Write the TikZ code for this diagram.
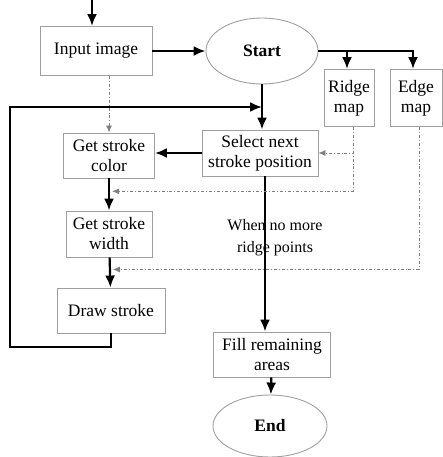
\documentclass[tikz,border=0pt]{standalone}
\usepackage{fontspec}
\setmainfont{Liberation Serif}
\usepackage{tikz}
\usetikzlibrary{arrows.meta,calc,positioning,shapes.geometric}

\begin{document}
\begin{tikzpicture}[x=1pt, y=-1pt, font=\fontsize{17.5}{20}\selectfont,
  box/.style={rectangle, draw=gray!75, line width=0.9pt, align=center, inner sep=2pt},
  oval/.style={ellipse, draw=gray!75, line width=0.9pt, font=\fontsize{17.5}{20}\selectfont\bfseries},
  flow/.style={line width=2.2pt, -{Latex[length=12pt,width=10pt]}},
  hint/.style={gray, line width=0.9pt, dash dot, -{Latex[length=7pt,width=6pt]}}]
  \useasboundingbox (0,0) rectangle (443,457);

  \node[box, minimum width=112pt, minimum height=49pt] (input) at (96,51) {Input image};
  \node[oval, minimum width=112pt, minimum height=66pt] (start) at (262,51) {Start};
  \node[box, minimum width=50pt, minimum height=57pt] (ridge) at (349,98) {Ridge\\map};
  \node[box, minimum width=52pt, minimum height=57pt] (edge) at (416,98) {Edge\\map};
  \node[box, minimum width=116pt, minimum height=46pt] (select) at (260,153) {Select next\\stroke position};
  \node[box, minimum width=91pt, minimum height=45pt] (color) at (109,155.5) {Get stroke\\color};
  \node[box, minimum width=86pt, minimum height=46pt] (width) at (109,234) {Get stroke\\width};
  \node[box, minimum width=108pt, minimum height=45pt] (stroke) at (111,310.5) {Draw stroke};
  \node[box, minimum width=117pt, minimum height=45pt] (fill) at (272,354.5) {Fill remaining\\areas};
  \node[oval, minimum width=114pt, minimum height=62pt] (end) at (270,426) {End};
  \node[align=center, font=\fontsize{16}{22}\selectfont] (nomore) at (275,238) {When no more\\ridge points};

  \coordinate (entry) at (92,0);
  \coordinate (loop) at (10,347);
  \path (start.south) -- (start.south |- select.north) coordinate[pos=0.5] (join);
  \coordinate (cw) at ($(color.south)!0.4!(width.north)$);
  \coordinate (wd) at ($(width.south)!0.4!(stroke.north)$);

  % main flow
  \draw[flow] (entry) -- (entry |- input.north);
  \draw[flow] (input.east) -- (start.west);
  \draw[flow] (start.east) -| ([xshift=-2pt]ridge.north);
  \draw[flow] (start.east) -| ([xshift=-3pt]edge.north);
  \draw[flow] (start.south) -- (start.south |- select.north);
  \draw[flow] (select.west) -- (select.west -| color.east);
  \draw[flow] (color) -- (width);
  \draw[flow] (width) -- (stroke);
  \draw[flow] (stroke.south) |- (loop) |- (join);
  \draw[flow] ([xshift=5pt]select.south) -- ([xshift=5pt]select.south |- fill.north);
  \draw[flow] (fill) -- (end);

  % data lines
  \draw[hint] (input.south -| color.north) -- (color.north);
  \draw[hint] ([xshift=4pt]ridge.south) |- (select.east);
  \draw[hint] ([xshift=4pt]ridge.south) |- ([xshift=3pt]cw);
  \draw[hint] ([xshift=3pt]edge.south) |- ([xshift=3pt]wd);
\end{tikzpicture}
\end{document}
